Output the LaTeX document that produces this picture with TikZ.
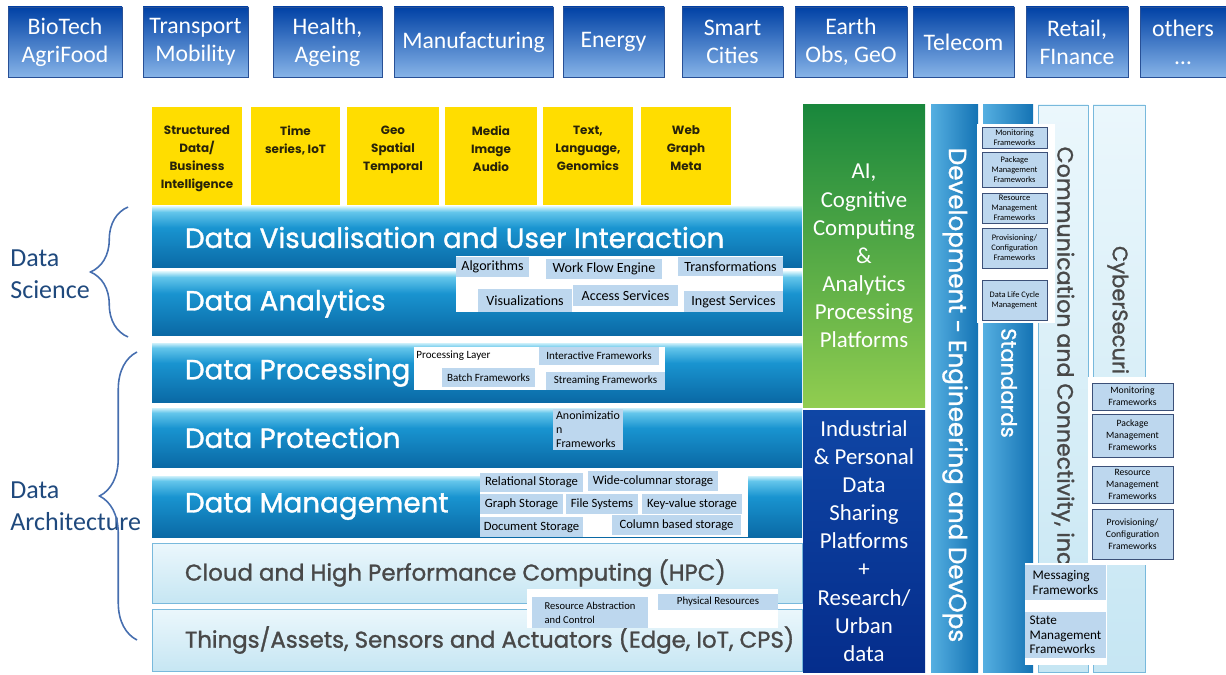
\documentclass[tikz,border=0pt]{standalone}
\usepackage{fontspec}
\setmainfont{Carlito}
\newfontfamily\geofont{Poppins}
\newfontfamily\geobold{Poppins}[FakeBold=1.2]
\usetikzlibrary{shadows,decorations.pathreplacing}

\definecolor{SectorTop}{RGB}{0,65,165}
\definecolor{SectorBottom}{RGB}{135,180,232}
\definecolor{SectorLine}{RGB}{40,80,150}
\definecolor{DataYellow}{RGB}{255,221,0}
\definecolor{DataInk}{RGB}{40,35,10}
\definecolor{LayerDark}{RGB}{10,105,165}
\definecolor{LayerMid}{RGB}{25,148,208}
\definecolor{LayerLight}{RGB}{100,198,235}
\definecolor{LayerEdge}{RGB}{205,240,250}
\definecolor{PaleTop}{RGB}{235,247,252}
\definecolor{PaleBottom}{RGB}{198,230,243}
\definecolor{PaleLine}{RGB}{120,185,220}
\definecolor{AITop}{RGB}{25,135,60}
\definecolor{AIBottom}{RGB}{145,205,80}
\definecolor{ShareTop}{RGB}{15,70,165}
\definecolor{ShareBottom}{RGB}{5,45,140}
\definecolor{DevLeft}{RGB}{85,175,225}
\definecolor{DevRight}{RGB}{20,115,180}
\definecolor{TagBlue}{RGB}{189,215,238}
\definecolor{TagLine}{RGB}{60,80,120}
\definecolor{SideBlue}{RGB}{31,73,125}
\definecolor{BraceBlue}{RGB}{70,110,175}
\definecolor{GreyText}{RGB}{72,72,72}

\pgfdeclareverticalshading{LayerShade}{100bp}{color(0bp)=(LayerDark); color(25bp)=(LayerDark); color(58bp)=(LayerMid); color(71bp)=(LayerLight); color(75bp)=(LayerEdge); color(100bp)=(LayerEdge)}

\tikzset{
    Span/.style n args = {4}{minimum width={(#3-#1)*0.02cm}, minimum height={(#4-#2)*0.02cm},
        at={({(#1+#3)/2},{(#2+#4)/2})}},
    SectorStyle/.style = {draw=SectorLine, line width=0.4pt, top color=SectorTop, bottom color=SectorBottom,
        text=white, align=center, inner sep=0pt, font=\fontsize{13.5}{16}\selectfont,
        drop shadow={opacity=0.35, shadow xshift=0.6pt, shadow yshift=-0.8pt}},
    DataStyle/.style = {fill=DataYellow, inner sep=0pt},
    DataText/.style = {anchor=north, align=center, inner sep=0pt, text=DataInk,
        font=\geofont\bfseries\fontsize{6.8}{10.2}\selectfont},
    LayerStyle/.style = {shading=LayerShade, inner sep=0pt},
    PaleStyle/.style = {draw=PaleLine, top color=PaleTop, bottom color=PaleBottom, inner sep=0pt},
    LayerText/.style = {anchor=west, inner sep=0pt, text=white, font=\geobold\fontsize{15.8}{18}\selectfont},
    AIStyle/.style = {top color=AITop, bottom color=AIBottom, text=white, align=center, inner sep=0pt,
        font=\fontsize{13}{16}\selectfont},
    ShareStyle/.style = {top color=ShareTop, bottom color=ShareBottom, text=white, align=center, inner sep=0pt,
        font=\fontsize{13}{16}\selectfont},
    DevStyle/.style = {left color=DevLeft, right color=DevRight, inner sep=0pt},
    ColText/.style = {rotate=-90, inner sep=0pt, font=\geobold\fontsize{14}{16}\selectfont},
    BackStyle/.style = {fill=white, inner sep=0pt},
    TagStyle/.style = {fill=TagBlue, inner sep=0pt, align=center, font=\fontsize{8}{9}\selectfont},
    FrameStyle/.style = {draw=TagLine, line width=0.4pt, fill=TagBlue, inner sep=0pt, align=center,
        font=\fontsize{4.8}{5.7}\selectfont},
    SideText/.style = {anchor=west, align=left, inner sep=0pt, text=SideBlue, font=\fontsize{14.8}{18}\selectfont},
    BraceStyle/.style = {draw=BraceBlue, line width=0.9pt, decorate, decoration={brace, amplitude=0.75cm}}
}

\begin{document}
\begin{tikzpicture}[x=0.02cm, y=-0.02cm]
    \useasboundingbox (0,0) rectangle (1226,675);
    \foreach \n/\xa/\xb/\txt in {bio/8/122/{BioTech\\AgriFood}, trans/143/248/{Transport\\Mobility},
        health/273/382/{Health,\\Ageing}, manu/394/553/{Manufacturing}, energy/563/664/{Energy},
        smart/682/783/{Smart\\Cities}, earth/795/907/{Earth\\Obs, GeO}, telecom/913/1014/{Telecom},
        retail/1026/1128/{Retail,\\FInance}, others/1140/1226/{others\\…}}
        \node[SectorStyle, Span={\xa}{7}{\xb}{77}] (\n) {\txt};

    \foreach \n/\xa/\xb/\txt in {sdata/152/242/{Structured\\Data/\\Business\\Intelligence},
        tseries/251/340/{Time\\series, IoT}, geo/347/439/{Geo\\Spatial\\Temporal},
        media/445/537/{Media\\Image\\Audio}, text/543/633/{Text,\\Language,\\Genomics},
        web/641/731/{Web\\Graph\\Meta}}{
        \node[DataStyle, Span={\xa}{107}{\xb}{205}] (\n) {};
        \node[DataText] (\n-t) at ([yshift=-0.38cm]\n.north) {\txt};
    }

    \foreach \n/\ya/\yb/\txt in {vis/207/268/{Data Visualisation and User Interaction},
        ana/272/335/{Data Analytics}, proc/343/402/{Data Processing},
        prot/408/467/{Data Protection}, mgmt/476/537/{Data Management}}{
        \node[LayerStyle, Span={152}{\ya}{802}{\yb}] (\n) {};
        \node[LayerText] (\n-t) at ([xshift=0.66cm]\n.west) {\txt};
    }
    \foreach \n/\ya/\yb/\txt in {cloud/543/603/{Cloud and High Performance Computing (HPC)},
        things/609/671/{Things/Assets, Sensors and Actuators (Edge, IoT, CPS)}}{
        \node[PaleStyle, Span={152}{\ya}{802}{\yb}] (\n) {};
        \node[LayerText, text=GreyText, font=\geobold\fontsize{13}{15}\selectfont] (\n-t) at ([xshift=0.66cm]\n.west) {\txt};
    }

    \node[AIStyle, Span={803}{105}{925}{407}] (ai) {AI,\\Cognitive\\Computing\\\&\\Analytics\\Processing\\Platforms};
    \node[ShareStyle, Span={803}{410}{925}{672}] (share) {Industrial\\\& Personal\\Data\\Sharing\\Platforms\\+\\Research/\\Urban\\data};

    \node[DevStyle, Span={931}{105}{978}{672}] (dev) {};
    \node[ColText, text=white] (dev-t) at (955,395) {Development - Engineering and DevOps};
    \node[DevStyle, Span={983}{105}{1033}{672}] (std) {};
    \node[ColText, text=white, font=\geobold\fontsize{12}{14}\selectfont] (std-t) at (1009,383) {Standards};
    \node[PaleStyle, Span={1038}{105}{1088}{672}] (comm) {};
    \node[ColText, text=GreyText, font=\geobold\fontsize{12.6}{14}\selectfont] (comm-t) at (1063,356) {Communication and Connectivity, inc};
    \node[PaleStyle, Span={1093}{105}{1145}{672}] (cyber) {};
    \node[ColText, text=GreyText, font=\geobold\fontsize{12}{14}\selectfont] (cyber-t) at (1118,310) {CyberSecuri};

    \node[BackStyle, Span={456}{256}{783}{312}] (anaBack) {};
    \node[TagStyle, Span={456}{257}{529}{277}] (algo) {Algorithms};
    \node[TagStyle, Span={546}{259}{662}{279}] (flow) {Work Flow Engine};
    \node[TagStyle, Span={678}{257}{783}{276}] (transf) {Transformations};
    \node[TagStyle, Span={478}{289}{572}{312}] (visu) {Visualizations};
    \node[TagStyle, Span={573}{285}{678}{306}] (access) {Access Services};
    \node[TagStyle, Span={684}{291}{783}{312}] (ingest) {Ingest Services};

    \node[BackStyle, Span={414}{347}{665}{390}] (procBack) {};
    \node[anchor=west, inner sep=0pt, font=\fontsize{6.3}{7.5}\selectfont] (layer) at (416,356) {Processing Layer};
    \node[TagStyle, font=\fontsize{6.3}{7.5}\selectfont, Span={539}{347}{659}{365}] (inter) {Interactive Frameworks};
    \node[TagStyle, font=\fontsize{6.3}{7.5}\selectfont, Span={442}{368}{535}{387}] (batch) {Batch Frameworks};
    \node[TagStyle, font=\fontsize{6.3}{7.5}\selectfont, Span={546}{372}{665}{390}] (stream) {Streaming Frameworks};
    \node[TagStyle, align=left, font=\fontsize{6.8}{8}\selectfont, Span={553}{409}{623}{450}] (anon) {Anonimizatio\\n\\Frameworks};

    \node[BackStyle, Span={480}{470}{748}{537}] (mgmtBack) {};
    \node[TagStyle, font=\fontsize{7.2}{8}\selectfont, Span={480}{473}{583}{492}] (relational) {Relational Storage};
    \node[TagStyle, font=\fontsize{7.2}{8}\selectfont, Span={588}{471}{718}{491}] (wide) {Wide-columnar storage};
    \node[TagStyle, font=\fontsize{7.2}{8}\selectfont, Span={480}{494}{563}{514}] (graph) {Graph Storage};
    \node[TagStyle, font=\fontsize{7.2}{8}\selectfont, Span={566}{494}{638}{514}] (files) {File Systems};
    \node[TagStyle, font=\fontsize{7.2}{8}\selectfont, Span={642}{494}{742}{514}] (keyval) {Key-value storage};
    \node[TagStyle, font=\fontsize{7.2}{8}\selectfont, Span={480}{517}{583}{537}] (document) {Document Storage};
    \node[TagStyle, font=\fontsize{7.2}{8}\selectfont, Span={612}{515}{741}{535}] (column) {Column based storage};

    \node[BackStyle, Span={527}{589}{778}{628}] (cloudBack) {};
    \node[TagStyle, align=left, font=\fontsize{6}{8}\selectfont, Span={532}{597}{648}{628}] (abstr) {Resource Abstraction\\and Control};
    \node[TagStyle, font=\fontsize{6.2}{7}\selectfont, Span={658}{594}{778}{610}] (phys) {Physical Resources};

    \node[BackStyle, Span={977}{124}{1055}{323}] (stdBack) {};
    \foreach \n/\ya/\yb/\txt in {stdMon/127/148/{Monitoring\\Frameworks},
        stdPkg/152/187/{Package\\Management\\Frameworks}, stdRes/193/223/{Resource\\Management\\Frameworks},
        stdProv/228/268/{Provisioning/\\Configuration\\Frameworks}, stdLife/280/320/{Data Life Cycle\\Management}}
        \node[FrameStyle, Span={982}{\ya}{1047}{\yb}] (\n) {\txt};

    \node[BackStyle, Span={1088}{377}{1180}{565}] (secBack) {};
    \foreach \n/\ya/\yb/\txt in {secMon/383/410/{Monitoring\\Frameworks},
        secPkg/414/457/{Package\\Management\\Frameworks}, secRes/466/503/{Resource\\Management\\Frameworks},
        secProv/509/559/{Provisioning/\\Configuration\\Frameworks}}
        \node[FrameStyle, font=\fontsize{5.5}{6.8}\selectfont, Span={1092}{\ya}{1173}{\yb}] (\n) {\txt};

    \node[BackStyle, Span={1025}{563}{1107}{665}] (msgBack) {};
    \node[TagStyle, align=left, font=\fontsize{7.5}{8.5}\selectfont, Span={1025}{565}{1106}{600}] (msg) {Messaging\\Frameworks};
    \node[TagStyle, align=left, font=\fontsize{7.5}{8.3}\selectfont, Span={1025}{612}{1106}{658}] (state) {State\\Management\\Frameworks};

    \node[SideText] (sci) at (10,274) {Data\\Science};
    \node[SideText] (arch) at (10,506) {Data\\Architecture};
    \coordinate (sciTop) at (128,207);
    \coordinate (sciBot) at (128,337);
    \coordinate (archTop) at (137,352);
    \coordinate (archBot) at (137,640);
    \draw[BraceStyle] (sciBot) -- (sciTop);
    \draw[BraceStyle] (archBot) -- (archTop);
\end{tikzpicture}
\end{document}
